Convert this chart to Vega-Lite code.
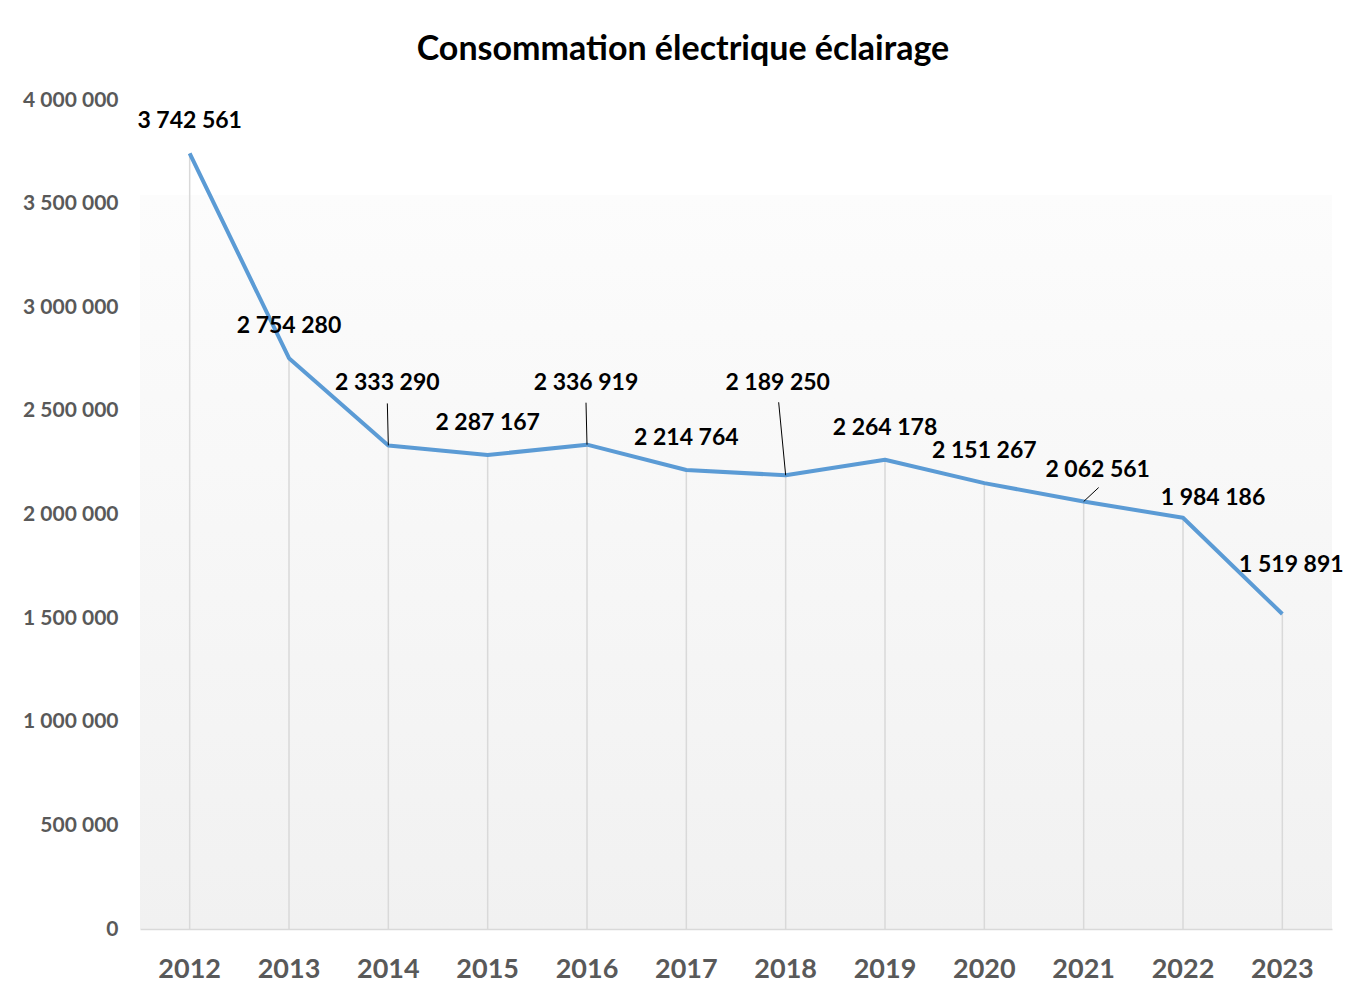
{
  "$schema": "https://vega.github.io/schema/vega-lite/v6.json",
  "autosize": {"type": "none"},
  "width": 1192,
  "height": 829,
  "padding": {"left": 140, "top": 100, "right": 14, "bottom": 66},
  "background": "#ffffff",
  "title": {
    "text": "Consommation électrique éclairage",
    "font": "Lato",
    "fontSize": 34,
    "fontWeight": "bold",
    "color": "#000000",
    "anchor": "middle",
    "dx": -53,
    "offset": 22
  },
  "config": {
    "locale": {"number": {"decimal": ",", "thousands": " ", "grouping": [3], "currency": ["", " €"]}},
    "view": {
      "stroke": null,
      "fill": {
        "gradient": "linear", "x1": 0, "y1": 0, "x2": 0, "y2": 1,
        "stops": [
          {"offset": 0, "color": "#ffffff"},
          {"offset": 0.114, "color": "#ffffff"},
          {"offset": 0.115, "color": "#fcfcfc"},
          {"offset": 1, "color": "#f1f1f1"}
        ]
      }
    }
  },
  "data": {
    "values": [
      {"annee": "2012", "kwh": 3742561},
      {"annee": "2013", "kwh": 2754280},
      {"annee": "2014", "kwh": 2333290},
      {"annee": "2015", "kwh": 2287167},
      {"annee": "2016", "kwh": 2336919},
      {"annee": "2017", "kwh": 2214764},
      {"annee": "2018", "kwh": 2189250},
      {"annee": "2019", "kwh": 2264178},
      {"annee": "2020", "kwh": 2151267},
      {"annee": "2021", "kwh": 2062561},
      {"annee": "2022", "kwh": 1984186},
      {"annee": "2023", "kwh": 1519891}
    ]
  },
  "encoding": {
    "x": {
      "field": "annee", "type": "ordinal", "title": null,
      "scale": {"paddingInner": 0, "paddingOuter": 0},
      "axis": {
        "labelAngle": 0, "ticks": false, "domain": true, "domainColor": "#d9d9d9", "domainWidth": 1.5,
        "labelFont": "Lato", "labelFontSize": 27, "labelFontWeight": "bold", "labelColor": "#595959",
        "labelPadding": 27, "grid": false
      }
    },
    "y": {
      "field": "kwh", "type": "quantitative", "title": null,
      "scale": {"domain": [0, 4000000], "nice": false},
      "axis": {
        "values": [0, 500000, 1000000, 1500000, 2000000, 2500000, 3000000, 3500000, 4000000],
        "format": ",d", "ticks": false, "domain": false, "grid": false,
        "labelFont": "Lato", "labelFontSize": 21, "labelFontWeight": "bold", "labelColor": "#595959",
        "labelPadding": 22
      }
    }
  },
  "layer": [
    {
      "mark": {"type": "rule", "color": "#d9d9d9", "strokeWidth": 1.5},
      "encoding": {"y2": {"datum": 0}}
    },
    {
      "mark": {"type": "line", "color": "#5b9bd5", "strokeWidth": 4, "strokeJoin": "round"}
    },
    {
      "transform": [{"filter": "datum.annee == '2014' || datum.annee == '2016'"}],
      "mark": {"type": "rule", "color": "#000000", "strokeWidth": 1, "x2Offset": -1, "y2Offset": -42},
      "encoding": {"x2": {"field": "annee"}, "y2": {"field": "kwh"}}
    },
    {
      "transform": [{"filter": "datum.annee == '2018'"}],
      "mark": {"type": "rule", "color": "#000000", "strokeWidth": 1, "x2Offset": -7, "y2Offset": -73},
      "encoding": {"x2": {"field": "annee"}, "y2": {"field": "kwh"}}
    },
    {
      "transform": [{"filter": "datum.annee == '2021'"}],
      "mark": {"type": "rule", "color": "#000000", "strokeWidth": 1, "x2Offset": 15, "y2Offset": -14},
      "encoding": {"x2": {"field": "annee"}, "y2": {"field": "kwh"}}
    },
    {
      "transform": [{"filter": "indexof(['2012','2013','2015','2017','2019','2020'], datum.annee) >= 0"}],
      "mark": {"type": "text", "font": "Lato", "fontSize": 23, "fontWeight": "bold", "color": "#000000", "baseline": "middle", "dy": -32},
      "encoding": {"text": {"field": "kwh", "type": "quantitative", "format": ",d"}}
    },
    {
      "transform": [{"filter": "datum.annee == '2014' || datum.annee == '2016'"}],
      "mark": {"type": "text", "font": "Lato", "fontSize": 23, "fontWeight": "bold", "color": "#000000", "baseline": "middle", "dx": -1, "dy": -62},
      "encoding": {"text": {"field": "kwh", "type": "quantitative", "format": ",d"}}
    },
    {
      "transform": [{"filter": "datum.annee == '2018'"}],
      "mark": {"type": "text", "font": "Lato", "fontSize": 23, "fontWeight": "bold", "color": "#000000", "baseline": "middle", "dx": -8, "dy": -92},
      "encoding": {"text": {"field": "kwh", "type": "quantitative", "format": ",d"}}
    },
    {
      "transform": [{"filter": "datum.annee == '2021'"}],
      "mark": {"type": "text", "font": "Lato", "fontSize": 23, "fontWeight": "bold", "color": "#000000", "baseline": "middle", "dx": 14, "dy": -32},
      "encoding": {"text": {"field": "kwh", "type": "quantitative", "format": ",d"}}
    },
    {
      "transform": [{"filter": "datum.annee == '2022'"}],
      "mark": {"type": "text", "font": "Lato", "fontSize": 23, "fontWeight": "bold", "color": "#000000", "baseline": "middle", "dx": 30, "dy": -20},
      "encoding": {"text": {"field": "kwh", "type": "quantitative", "format": ",d"}}
    },
    {
      "transform": [{"filter": "datum.annee == '2023'"}],
      "mark": {"type": "text", "font": "Lato", "fontSize": 23, "fontWeight": "bold", "color": "#000000", "baseline": "middle", "dx": 9, "dy": -49},
      "encoding": {"text": {"field": "kwh", "type": "quantitative", "format": ",d"}}
    }
  ]
}
